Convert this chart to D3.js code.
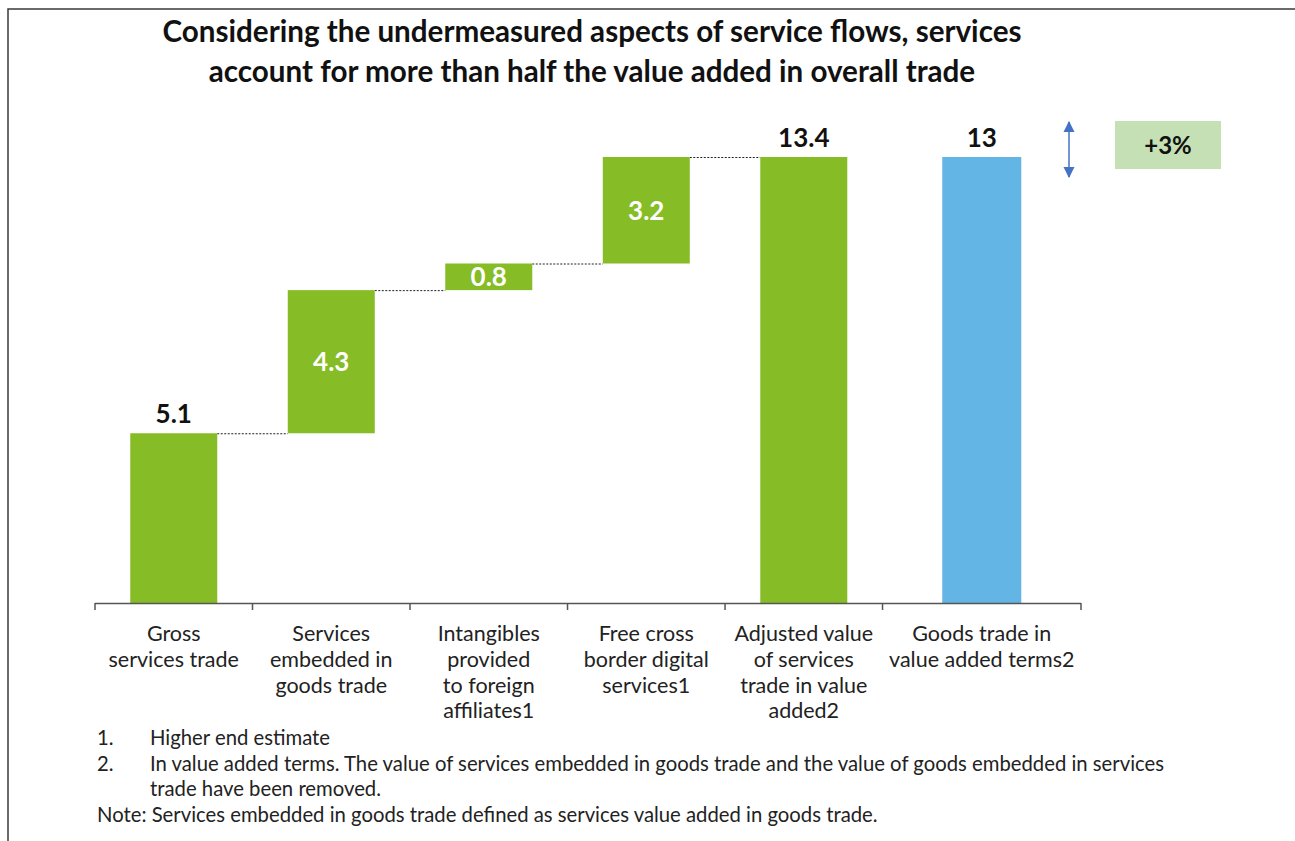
<!DOCTYPE html>
<html>
<head>
<meta charset="utf-8">
<script src="https://cdn.jsdelivr.net/npm/d3@7"></script>
<style>
  html, body { margin: 0; padding: 0; background: #fff; }
  svg { display: block; font-family: Lato, "Open Sans", sans-serif; }
</style>
</head>
<body>
<div id="chart"></div>
<script>
// --- DATA ---
const categories = [
  ["Gross", "services trade"],
  ["Services", "embedded in", "goods trade"],
  ["Intangibles", "provided", "to foreign", "affiliates1"],
  ["Free cross", "border digital", "services1"],
  ["Adjusted value", "of services", "trade in value", "added2"],
  ["Goods trade in", "value added terms2"]
];
const values = [5.1, 4.3, 0.8, 3.2, 13.4, 13.4];
const kinds = ["total", "delta", "delta", "delta", "total", "compare"];
const valueLabels = ["5.1", "4.3", "0.8", "3.2", "13.4", "13"];
const diffLabel = "+3%";
const titleLines = [
  "Considering the undermeasured aspects of service flows, services",
  "account for more than half the value added in overall trade"
];
const footnotes = [
  ["1.", "Higher end estimate"],
  ["2.", "In value added terms. The value of services embedded in goods trade and the value of goods embedded in services"],
  ["", "trade have been removed."]
];
const note = "Note: Services embedded in goods trade defined as services value added in goods trade.";

// --- LAYOUT ---
const W = 1295, H = 841;
const green = "#86BC25", blue = "#62B5E5";
const bandWeights = [1, 1, 1, 1, 1, 1.26];

const svg = d3.select("#chart").append("svg")
  .attr("width", W).attr("height", H);

// frame (top + left)
svg.append("path")
  .attr("d", `M8,${H} L8,9 L${W},9`)
  .attr("fill", "none").attr("stroke", "#3a3a3a").attr("stroke-width", 1.5);

// title
svg.append("g").selectAll("text").data(titleLines).join("text")
  .attr("x", 592).attr("y", (d, i) => 42 + i * 40)
  .attr("text-anchor", "middle")
  .attr("font-size", 29.6).attr("font-weight", 700).attr("fill", "#111")
  .text(d => d);

// x positions: cumulative band edges through a linear scale
const edges = [0];
bandWeights.forEach(w => edges.push(edges[edges.length - 1] + w));
const x = d3.scaleLinear().domain([0, edges[edges.length - 1]]).range([95, 1081]);
const y = d3.scaleLinear().domain([0, 13.4]).range([603, 157]);

// compute waterfall bottoms/tops
let run = 0;
const bars = values.map((v, i) => {
  let lo, hi;
  if (kinds[i] === "delta") { lo = run; hi = run + v; run = hi; }
  else { lo = 0; hi = v; run = v; }
  const c = (x(edges[i]) + x(edges[i + 1])) / 2;
  const bw = kinds[i] === "compare" ? 79 : 87;
  return { i, v, lo, hi, c, bw, kind: kinds[i], label: valueLabels[i] };
});

// connectors
const conn = svg.append("g");
for (let i = 0; i < 4; i++) {
  const a = bars[i], b = bars[i + 1];
  conn.append("line")
    .attr("x1", a.c + a.bw / 2).attr("x2", b.c - b.bw / 2)
    .attr("y1", y(a.hi) + 0.5).attr("y2", y(a.hi) + 0.5)
    .attr("stroke", "#222").attr("stroke-width", 1)
    .attr("stroke-dasharray", "2,1.5");
}

// bars
svg.append("g").selectAll("rect").data(bars).join("rect")
  .attr("x", d => d.c - d.bw / 2)
  .attr("width", d => d.bw)
  .attr("y", d => y(d.hi))
  .attr("height", d => y(d.lo) - y(d.hi))
  .attr("fill", d => d.kind === "compare" ? blue : green);

// value labels
svg.append("g").selectAll("text").data(bars).join("text")
  .attr("x", d => d.c)
  .attr("y", d => d.kind === "delta" ? (y(d.lo) + y(d.hi)) / 2 + 9.5 : y(d.hi) - 10)
  .attr("text-anchor", "middle")
  .attr("font-size", 26).attr("font-weight", 700)
  .attr("fill", d => d.kind === "delta" ? "#fff" : "#111")
  .text(d => d.label);

// axis line + ticks
const axis = svg.append("g").attr("stroke", "#555").attr("stroke-width", 1.5);
axis.append("line").attr("x1", x(0)).attr("x2", x(edges[edges.length - 1]))
  .attr("y1", y(0) + 0.5).attr("y2", y(0) + 0.5);
axis.selectAll(".tick").data(edges).join("line")
  .attr("x1", d => x(d)).attr("x2", d => x(d))
  .attr("y1", y(0)).attr("y2", y(0) + 7);

// category labels
const catG = svg.append("g").attr("font-size", 21.5).attr("fill", "#222");
categories.forEach((lines, i) => {
  const c = (x(edges[i]) + x(edges[i + 1])) / 2;
  const t = catG.append("text").attr("text-anchor", "middle");
  lines.forEach((ln, j) => {
    t.append("tspan").attr("x", c).attr("y", 641 + j * 25.8).text(ln);
  });
});

// difference annotation
const arrowX = 1069;
const defs = svg.append("defs");
defs.append("marker").attr("id", "ah").attr("viewBox", "0 0 10 10")
  .attr("refX", 9).attr("refY", 5).attr("markerWidth", 8).attr("markerHeight", 8)
  .attr("markerUnits", "userSpaceOnUse")
  .attr("orient", "auto-start-reverse")
  .append("path").attr("d", "M0,0 L10,5 L0,10 z").attr("fill", "#4472C4");
defs.select("marker").attr("markerWidth", 11).attr("markerHeight", 12);
svg.append("line")
  .attr("x1", arrowX).attr("x2", arrowX).attr("y1", 122).attr("y2", 177)
  .attr("stroke", "#4472C4").attr("stroke-width", 1.5)
  .attr("marker-start", "url(#ah)").attr("marker-end", "url(#ah)");
svg.append("rect").attr("x", 1115).attr("y", 121).attr("width", 106).attr("height", 48)
  .attr("fill", "#C5E0B4");
svg.append("text").attr("x", 1168).attr("y", 154).attr("text-anchor", "middle")
  .attr("font-size", 24).attr("font-weight", 700).attr("fill", "#111").text(diffLabel);

// footnotes
const fn = svg.append("g").attr("font-size", 20.3).attr("fill", "#222");
footnotes.forEach((f, j) => {
  fn.append("text").attr("x", 97).attr("y", 745 + j * 25.7).text(f[0]);
  fn.append("text").attr("x", 150).attr("y", 745 + j * 25.7).text(f[1]);
});
fn.append("text").attr("x", 97).attr("y", 822).text(note);
</script>
</body>
</html>
